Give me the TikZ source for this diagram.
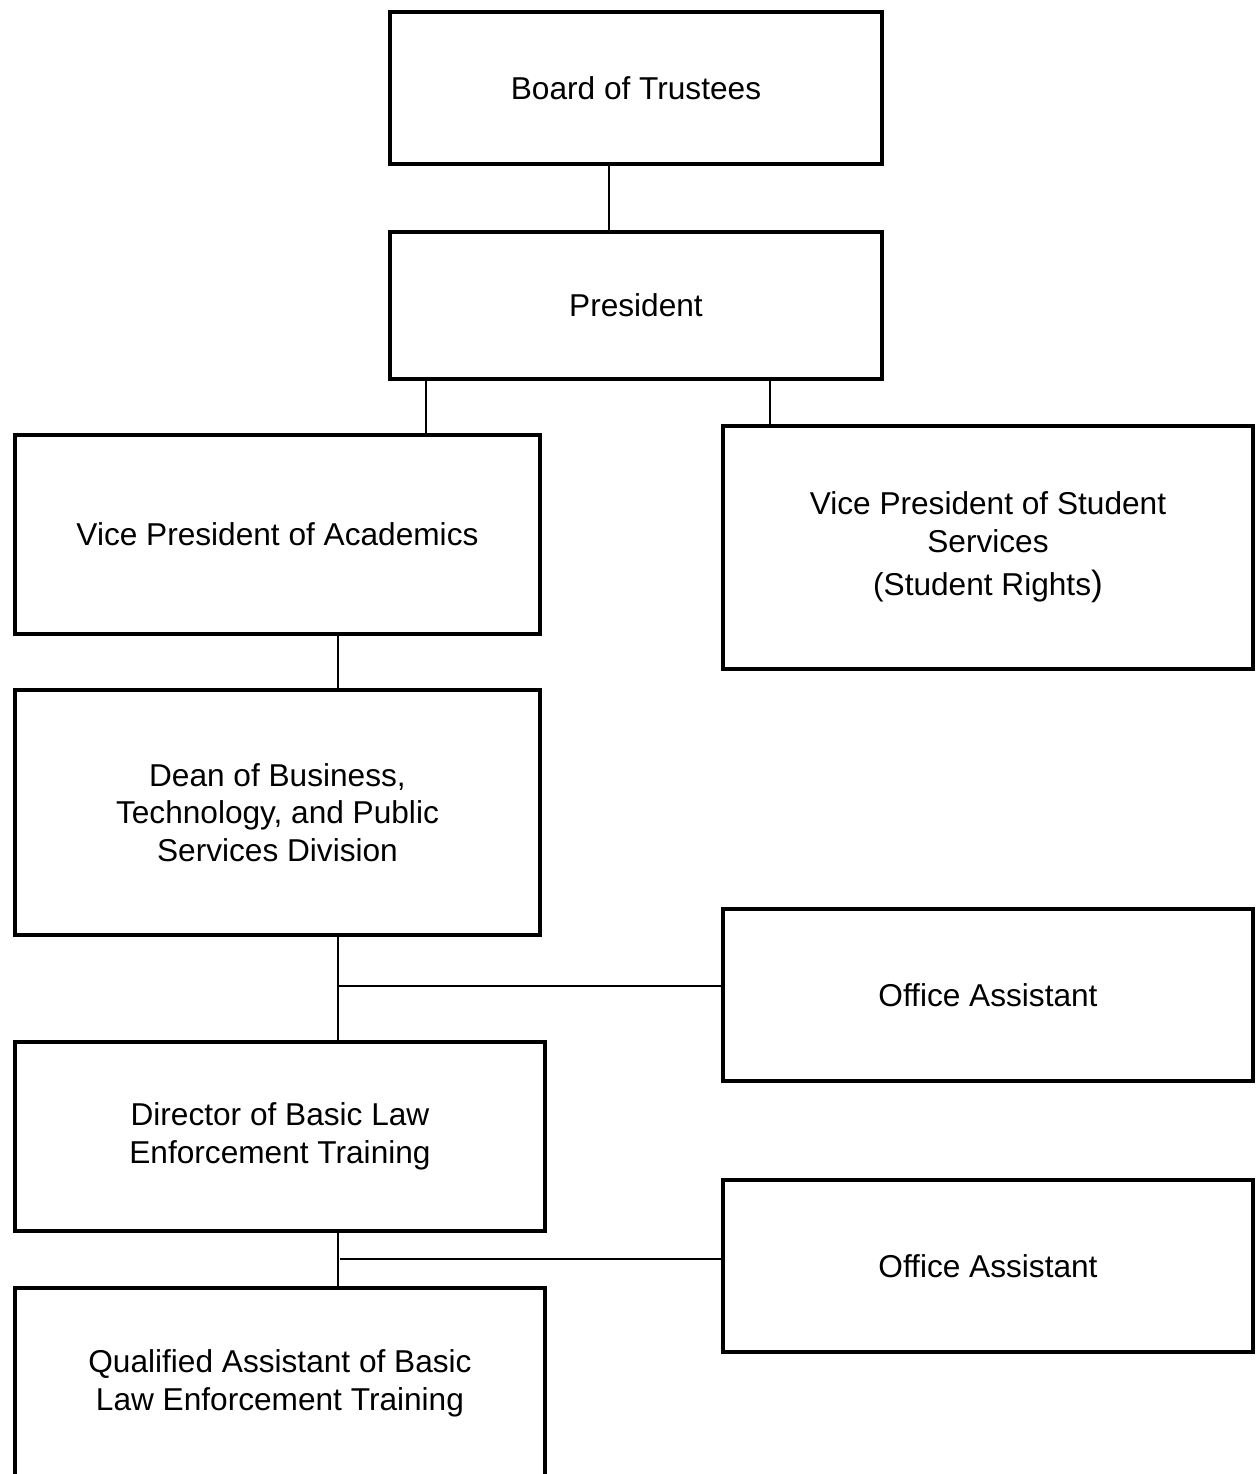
\documentclass[tikz,border=0pt]{standalone}
\usepackage{fontspec}
\setmainfont{Liberation Sans}
\usetikzlibrary{positioning}

\begin{document}
\begin{tikzpicture}[
    x=0.02cm, y=-0.02cm,
    every node/.style={font=\fontsize{18}{21.5}\selectfont},
    unit/.style={draw, rectangle, line width=2.3pt, align=center, inner sep=0pt, anchor=north west},
    wide/.style={unit, minimum width=10.6cm},
    link/.style={line width=0.85pt}
    ]
    \useasboundingbox (0,0) rectangle (1255,1474);
    % boxes
    \node[unit, minimum width=9.84cm, minimum height=3.04cm] (board) at (388,10) {Board of Trustees};
    \node[unit, minimum width=9.84cm, minimum height=2.94cm] (pres) at (388,230) {President};
    \node[unit, minimum width=10.5cm, minimum height=3.98cm] (vpa) at (13,433) {Vice President of Academics};
    \node[wide, minimum height=4.86cm] (vps) at (721,424) {Vice President of Student\\Services\\[3pt](Student Rights{\fontsize{20}{21.5}\selectfont)}};
    \node[unit, minimum width=10.5cm, minimum height=4.9cm] (dean) at (13,688) {Dean of Business,\\Technology, and Public\\Services Division};
    \node[wide, minimum height=3.44cm] (oa1) at (721,907) {Office Assistant};
    \node[wide, minimum height=3.78cm] (dir) at (13,1040) {Director of Basic Law\\Enforcement Training};
    \node[wide, minimum height=3.44cm] (oa2) at (721,1178) {Office Assistant};
    \node[wide, minimum height=3.8cm] (qual) at (13,1286) {Qualified Assistant of Basic\\Law Enforcement Training};
    % connector columns
    \coordinate (trunk) at (609,0);
    \coordinate (pa) at (426,0);
    \coordinate (ps) at (770,0);
    \coordinate (spine) at (338,0);
    \coordinate (t1) at (338,986);
    \coordinate (t2) at (340,1259);
    % connectors
    \draw[link] (trunk |- board.south) -- (trunk |- pres.north);
    \draw[link] (pa |- pres.south) -- (pa |- vpa.north);
    \draw[link] (ps |- pres.south) -- (ps |- vps.north);
    \draw[link] (spine |- vpa.south) -- (spine |- dean.north);
    \draw[link] (spine |- dean.south) -- (spine |- dir.north);
    \draw[link] (t1) -- (t1 -| oa1.west);
    \draw[link] (spine |- dir.south) -- (spine |- qual.north);
    \draw[link] (t2) -- (t2 -| oa2.west);
\end{tikzpicture}
\end{document}
